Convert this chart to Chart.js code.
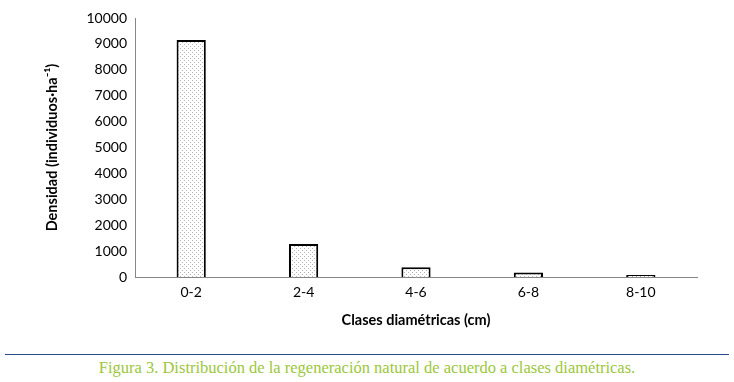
<!DOCTYPE html>
<html>
<head>
<meta charset="utf-8">
<script src="https://cdn.jsdelivr.net/npm/chart.js@4/dist/chart.umd.min.js"></script>
<style>
	body { margin: 0; background: #fff; width: 734px; height: 382px; overflow: hidden; }
	#wrap { position: absolute; left: 0; top: 0; width: 734px; height: 336px; }
	#rule { position: absolute; left: 5px; top: 354px; width: 724px; height: 1px; background: #2b4a8e; }
	#caption { position: absolute; left: 0; top: 358px; width: 734px; text-align: center;
		font-family: "Liberation Serif", "DejaVu Serif", serif; font-size: 16.5px; color: #9cc73b; }
</style>
</head>
<body>
<div id="wrap"><canvas id="chart" width="734" height="336"></canvas></div>
<div id="rule"></div>
<div id="caption">Figura 3. Distribución de la regeneración natural de acuerdo a clases diamétricas.</div>
<script>
const categories = ['0-2', '2-4', '4-6', '6-8', '8-10'];
const densidad = [9150, 1270, 380, 170, 80];
const yTicks = [0, 1000, 2000, 3000, 4000, 5000, 6000, 7000, 8000, 9000, 10000];

// dotted fill like the original
function dots() {
	const c = document.createElement('canvas');
	c.width = 4;
	c.height = 4;
	const g = c.getContext('2d');
	g.fillStyle = '#ffffff';
	g.fillRect(0, 0, 4, 4);
	g.fillStyle = '#b4b4b4';
	g.fillRect(0, 0, 1, 1);
	g.fillRect(2, 2, 1, 1);
	return g.createPattern(c, 'repeat');
}

const ctx = document.getElementById('chart').getContext('2d');
const font = "Lato, 'Open Sans', sans-serif";

new Chart(ctx, {
	type: 'bar',
	data: {
		labels: categories,
		datasets: [{
			data: densidad,
			backgroundColor: dots(),
			borderColor: '#000000',
			borderWidth: 2,
			categoryPercentage: 1,
			barPercentage: 0.26
		}]
	},
	options: {
		responsive: false,
		animation: false,
		layout: { padding: { left: 40, right: 37, top: 18, bottom: 3 } },
		plugins: { legend: { display: false }, tooltip: { enabled: false } },
		scales: {
			x: {
				grid: { display: false, drawTicks: false },
				border: { color: '#868686' },
				ticks: { color: '#000', padding: 7, font: { family: font, size: 14 } },
				title: {
					display: true,
					text: 'Clases diamétricas (cm)',
					color: '#000',
					font: { family: font, size: 14.5, weight: 'bold' }
				},
				afterFit: function (s) { s.height = 56; }
			},
			y: {
				min: 0,
				max: 10000,
				grid: { display: false, drawTicks: false },
				border: { color: '#868686' },
				afterBuildTicks: function (s) { s.ticks = yTicks.map(v => ({ value: v })); },
				ticks: {
					color: '#000', padding: 8, font: { family: font, size: 14 },
					callback: function (v) { return String(v); }
				},
				title: {
					display: true,
					text: 'Densidad (individuos·ha⁻¹)',
					color: '#000',
					font: { family: font, size: 14.5, weight: 'bold' }
				},
				afterFit: function (s) { s.width = 95; }
			}
		}
	}
});
</script>
</body>
</html>
